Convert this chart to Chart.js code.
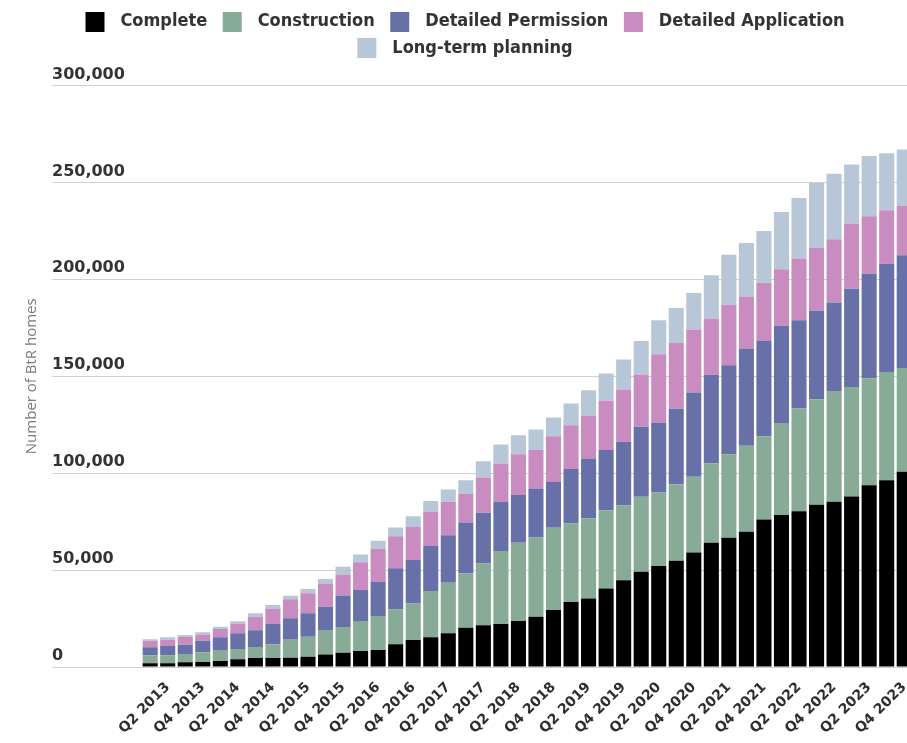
<!DOCTYPE html>
<html>
<head>
<meta charset="utf-8">
<script src="https://cdn.jsdelivr.net/npm/chart.js@4.4.1/dist/chart.umd.min.js"></script>
<style>
html,body{margin:0;padding:0;background:#fff;overflow:hidden;}
#wrap{width:913px;height:743px;}
</style>
</head>
<body>
<div id="wrap"><canvas id="c" width="913" height="743"></canvas></div>
<script>
const quarters = [
  'Q1 2013','Q2 2013','Q3 2013','Q4 2013','Q1 2014','Q2 2014','Q3 2014','Q4 2014',
  'Q1 2015','Q2 2015','Q3 2015','Q4 2015','Q1 2016','Q2 2016','Q3 2016','Q4 2016',
  'Q1 2017','Q2 2017','Q3 2017','Q4 2017','Q1 2018','Q2 2018','Q3 2018','Q4 2018',
  'Q1 2019','Q2 2019','Q3 2019','Q4 2019','Q1 2020','Q2 2020','Q3 2020','Q4 2020',
  'Q1 2021','Q2 2021','Q3 2021','Q4 2021','Q1 2022','Q2 2022','Q3 2022','Q4 2022',
  'Q1 2023','Q2 2023','Q3 2023','Q4 2023'
];
const complete = [1900,1900,2400,2600,3100,4000,4600,4600,4800,5300,6500,7400,8200,8800,11700,13900,15300,17400,20300,21500,22200,23700,25900,29400,33500,35400,40500,44800,49100,52100,54800,59100,64100,66700,69800,76100,78400,80400,83700,85200,88000,93800,96400,100700];
const construction = [4100,4100,4300,5000,5700,5300,5700,7100,9600,10300,12600,13200,15500,17500,18000,18900,23900,26100,28000,31900,37600,40400,40900,42400,40600,41200,40400,38700,38700,37900,39500,39000,40900,43100,44300,43000,47500,52900,54400,57200,56500,55000,55800,53600];
const detailedPermission = [4200,4800,4800,6000,6500,8100,8600,10500,10700,12100,12000,16300,16000,17500,21300,22400,23200,24500,26300,26200,25300,24600,25300,23700,28000,31000,31000,32700,36100,35900,38900,43500,45800,45900,50200,49100,50200,45600,45700,45600,50700,54100,55900,58100];
const detailedApplication = [3400,3100,4100,3200,4300,5100,7000,7700,9800,10300,12000,10500,14400,17200,16400,17000,17700,17200,14600,18200,19900,21100,19800,23600,22600,22000,25400,26900,26900,35400,34000,32500,28900,31200,26900,30100,29100,31800,32500,32700,33500,29700,27500,25400];
const longTermPlanning = [700,1400,900,1100,1200,1100,1800,2100,1900,2200,2300,4300,4000,4100,4600,5600,5500,6400,7200,8400,9800,9800,10600,9600,11200,13200,14100,15500,17400,17600,18000,18900,22400,25800,27500,26600,29500,31200,33400,33800,30600,31000,29500,29200];

const seriesNames = ['Complete','Construction','Detailed Permission','Detailed Application','Long-term planning'];
const seriesValues = [complete, construction, detailedPermission, detailedApplication, longTermPlanning];
const seriesColors = ['#000000','#87ab96','#6771a8','#c98cc0','#b8c7d7'];
const yAxisTitle = 'Number of BtR homes';

function swatch(color){
  const c = document.createElement('canvas');
  c.width = 33; c.height = 20;
  const g = c.getContext('2d');
  g.fillStyle = color;
  g.fillRect(7, 0, 19, 20);
  return c;
}
const swatches = seriesColors.map(swatch);

// adds empty space under the legend so the plot starts lower
const legendSpacer = {
  id: 'legendSpacer',
  afterInit(chart) {
    const lg = chart.legend;
    if (!lg) return;
    const orig = lg.fit;
    lg.fit = function () { orig.apply(this, arguments); this.height += 18.5; };
  }
};

new Chart(document.getElementById('c'), {
  type: 'bar',
  data: {
    labels: quarters,
    datasets: seriesNames.map((n, i) => ({
      label: n,
      data: seriesValues[i],
      backgroundColor: seriesColors[i],
      borderWidth: 0,
      barPercentage: 0.86,
      categoryPercentage: 1.0
    }))
  },
  plugins: [legendSpacer],
  options: {
    responsive: false,
    animation: false,
    layout: { padding: { left: 10, top: 4, right: 0, bottom: 0 } },
    plugins: {
      tooltip: { enabled: false },
      legend: {
        position: 'top',
        align: 'center',
        labels: {
          usePointStyle: true,
          pointStyleWidth: 33,
          boxHeight: 20,
          padding: 8.5,
          color: '#333333',
          font: { family: "'DejaVu Sans Condensed', 'DejaVu Sans', sans-serif", size: 18, weight: 'bold' },
          generateLabels(chart) {
            const items = Chart.defaults.plugins.legend.labels.generateLabels(chart);
            items.forEach((it, i) => { it.pointStyle = swatches[i]; it.lineWidth = 0; });
            return items;
          }
        }
      }
    },
    scales: {
      x: {
        stacked: true,
        grid: { display: false },
        border: { display: false },
        ticks: {
          autoSkip: false,
          minRotation: 45,
          maxRotation: 45,
          padding: 4,
          color: '#2e2e2e',
          font: { family: "'DejaVu Sans', sans-serif", size: 14, weight: 'bold' },
          callback(v, i) { return i % 2 === 1 ? quarters[i] : ''; }
        },
        afterFit(s) { s.height = 76; s.paddingLeft = 0; s.paddingRight = 0; }
      },
      y: {
        stacked: true,
        min: 0,
        max: 300000,
        ticks: {
          stepSize: 50000,
          crossAlign: 'far',
          labelOffset: -11,
          padding: 0,
          color: '#333333',
          font: { family: "'DejaVu Sans', sans-serif", size: 16, weight: 'bold' },
          callback: v => Number(v).toLocaleString('en-US')
        },
        grid: { color: '#cfcfcf', lineWidth: 1, drawTicks: true, tickLength: 89 },
        border: { display: false },
        afterFit(s) { s.width = 89.4; s.paddingTop = 0; }
      },
      yTitle: {
        type: 'linear',
        position: 'left',
        weight: 1,
        grid: { display: false, drawTicks: false },
        border: { display: false },
        ticks: { display: false },
        title: {
          display: true,
          text: yAxisTitle,
          color: '#7a7a7a',
          font: { family: "'Open Sans', sans-serif", size: 15 },
          padding: { top: 13, bottom: 0 }
        },
        afterFit(s) { s.width = 42; }
      }
    }
  }
});
</script>
</body>
</html>
